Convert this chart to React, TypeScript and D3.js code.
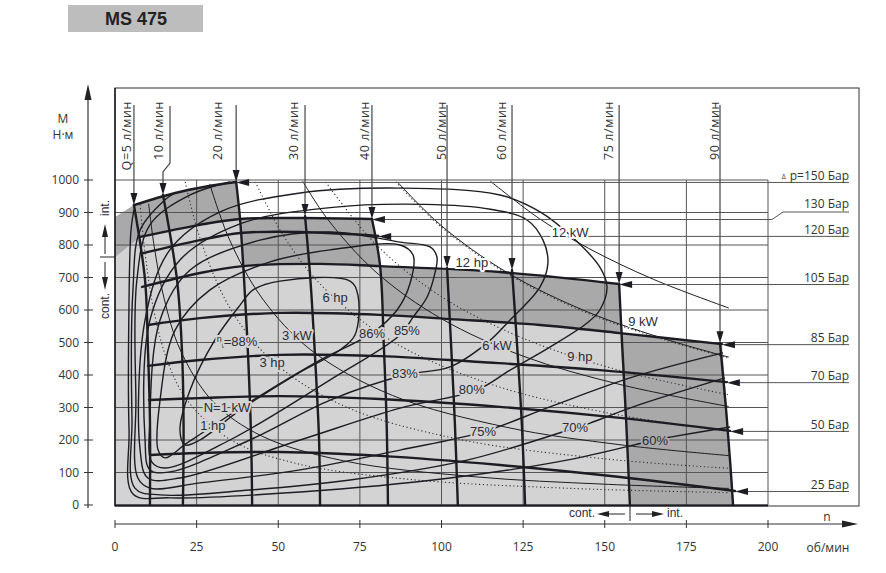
import React from "react";
import * as d3 from "d3";

type Pt = [number, number];

// axis ticks
const speedTicks = [0, 25, 50, 75, 100, 125, 150, 175, 200];
const torqueTicks = [0, 100, 200, 300, 400, 500, 600, 700, 800, 900, 1000];

// flow lines (n об/мин, M Н·м), top point first
const flowNames = ["Q=5 л/мин", "10 л/мин", "20 л/мин", "30 л/мин", "40 л/мин", "50 л/мин", "60 л/мин", "75 л/мин", "90 л/мин"];
const flowCurves: Pt[][] = [
  [[5.8, 923], [9.2, 692], [10.1, 477], [10.7, 262], [10.7, 0]],
  [[14.7, 954], [19, 692], [20.5, 477], [21, 250], [20.8, 0]],
  [[37.1, 994], [38.3, 880], [39.5, 700], [40.8, 450], [41.7, 200], [42, 0]],
  [[58.2, 889], [59.8, 700], [61.3, 450], [62.5, 200], [62.8, 0]],
  [[78.7, 880], [81.2, 735], [82.3, 500], [83.2, 250], [83.6, 0]],
  [[101.7, 729], [102.9, 500], [104.1, 250], [105, 0]],
  [[121.6, 723], [123.1, 500], [124.6, 250], [125.6, 0]],
  [[154.4, 680], [155.3, 500], [156.6, 250], [157.7, 0]],
  [[185.3, 498], [187.1, 300], [188.5, 120], [189.3, 0]],
];

// pressure lines, right end last
const pressureNames = ["p=150 Бар", "130 Бар", "120 Бар", "105 Бар", "85 Бар", "70 Бар", "50 Бар", "25 Бар"];
const pressureCurves: Pt[][] = [
  [[5.8, 923], [18.4, 960], [28, 980], [37.1, 994]],
  [[7.7, 825], [26, 862], [38.3, 880], [56.7, 883], [78.7, 880]],
  [[8.6, 775], [26, 815], [38.3, 837], [56.7, 840], [80.6, 828]],
  [[8.3, 671], [26, 714], [39.2, 735], [62.8, 742], [81.2, 735], [117.9, 717], [154.4, 680]],
  [[10.1, 554], [26, 575], [50.5, 591], [81.2, 585], [102.6, 572], [130.2, 554], [154.7, 529], [185.9, 495]],
  [[10.1, 428], [26, 446], [50.5, 462], [81.2, 458], [111.8, 440], [148.5, 415], [187.4, 378]],
  [[10.4, 323], [26, 329], [50.5, 335], [81.2, 326], [117.9, 302], [154.7, 268], [188.4, 228]],
  [[10.7, 154], [26, 160], [50.5, 163], [81.2, 151], [117.9, 123], [154.7, 86], [189.9, 43]],
];

// working areas
const intEnvelope: Pt[] = [
  [0, 0], [0, 886], [5.8, 923], [18.4, 960], [28, 980], [37.1, 994], [38.3, 880], [56.7, 883], [78.7, 880],
  [81.2, 735], [117.9, 717], [154.4, 680], [155, 530], [185.9, 495], [187.4, 300], [189.3, 0],
];
const contEnvelope: Pt[] = [
  [0, 0], [0, 763], [7.7, 825], [26, 862], [38.3, 880], [39.2, 735], [62.8, 742], [81.2, 735], [82, 582],
  [102.6, 572], [130.2, 554], [154.7, 529], [155.9, 323], [157.7, 0],
];

// efficiency contours
const effClosed: Pt[][] = [
  [[42.3, 662], [50.5, 689], [72, 689], [74.4, 646], [73.5, 523], [68.9, 477], [56.7, 409], [38.3, 292], [26, 200], [21.4, 185], [19.9, 231], [23, 354], [30.6, 508], [38.3, 615]],
  [[78.7, 529], [86.4, 600], [90.4, 683], [91.3, 769], [87.3, 800], [65.9, 785], [47.5, 748], [29.1, 662], [18.4, 538], [13.8, 323], [13.2, 169], [15.3, 145], [22.1, 191], [42.3, 323], [62.8, 446]],
  [[91.3, 578], [95.6, 640], [98, 714], [98.6, 763], [96.5, 794], [87.3, 809], [65.9, 840], [44.4, 815], [23, 723], [13.8, 569], [10.7, 262], [11.3, 132], [15.3, 114], [35.2, 200], [65.9, 385], [87.3, 523]],
  [[102.6, 425], [113.9, 498], [121, 569], [130.2, 671], [132.6, 745], [131.1, 815], [126.2, 877], [115, 910], [95, 925], [65.9, 915], [38.3, 865], [19.9, 754], [10.7, 569], [9.2, 200], [10.7, 108], [16.8, 102], [41.3, 200], [65.9, 323], [88.8, 400]],
  [[110.9, 354], [121, 415], [133.2, 486], [144.6, 560], [148.5, 600], [150.7, 671], [148.5, 732], [140.3, 822], [130.2, 902], [117.9, 954], [87.3, 975], [56.7, 960], [32.2, 902], [16.8, 785], [9.2, 569], [7.7, 169], [10.1, 83], [19.9, 83], [56.7, 200], [87.3, 298]],
];
const effOpen: Pt[][] = [
  [[186.2, 468], [158.7, 394], [133.2, 302], [112.7, 225], [87.3, 169], [56.7, 108], [26, 68], [10.7, 52], [7, 83], [6.4, 323], [6.7, 692], [10.7, 862], [23, 954], [35.2, 994]],
  [[186.8, 391], [158.7, 302], [145.5, 252], [140.9, 237], [107.8, 138], [72, 77], [41.3, 46], [13.8, 31], [6.1, 52], [5.2, 262], [5.5, 662], [7.7, 846], [15.3, 939], [18.4, 960]],
  [[188.4, 240], [170, 209], [165.4, 200], [138.4, 138], [102.6, 83], [56.7, 40], [16.8, 22], [5.5, 34], [4.3, 231], [4.3, 631], [4.9, 846], [5.8, 908]],
];
const effNames = ["86%", "85%", "83%", "80%", "75%", "70%", "60%"];
const effLabelAt: Pt[] = [[78.7, 529], [89.4, 538], [88.8, 406], [109.3, 354], [112.7, 225], [140.9, 237], [165.4, 200]];
const eff88At: Pt = [37.4, 502];

// constant power lines
const kwNames = ["N=1 kW", "3 kW", "6 kW", "9 kW", "12 kW"];
const kwCurves: Pt[][] = [
  [[10.3, 927], [12, 796], [15, 637], [20, 477], [30, 318], [45, 212], [70, 136], [110, 87], [150, 64], [188, 51]],
  [[29, 988], [35, 818], [45, 637], [60, 477], [85, 337], [120, 239], [155, 185], [188, 152]],
  [[57.5, 996], [65, 881], [80, 716], [100, 573], [125, 458], [155, 370], [188, 303]],
  [[86.5, 994], [100, 859], [120, 716], [145, 593], [170, 506], [188, 455]],
  [[115, 996], [130, 881], [145, 790], [165, 694], [188, 606]],
];
const kwLabelAt: Pt[] = [[34.3, 301], [55.7, 523], [117, 492], [161.7, 566], [139.4, 840]];
const hpNames = ["1 hp", "3 hp", "6 hp", "9 hp", "12 hp"];
const hpCurves: Pt[][] = [
  [[7.7, 925], [9, 791], [12, 593], [16, 445], [22, 324], [35, 203], [55, 129], [90, 79], [140, 51], [188, 38]],
  [[21.5, 994], [26, 822], [35, 610], [48, 445], [70, 305], [105, 203], [150, 142], [188, 113]],
  [[43, 994], [52, 822], [64, 668], [85, 503], [115, 372], [150, 285], [188, 226]],
  [[64.5, 994], [80, 801], [100, 641], [125, 513], [155, 413], [188, 339]],
  [[86, 994], [100, 855], [120, 712], [145, 589], [170, 503], [188, 452]],
];
const hpLabelAt: Pt[] = [[30, 246], [48.1, 440], [67.4, 640], [142.4, 458], [109.3, 745]];

const LIGHT = "#d3d3d3";
const DARK = "#a9a9a9";
const INK = "#1c1c22";
const TXT = "#2b2d38";

export default function App() {
  const x = d3.scaleLinear().domain([0, 200]).range([115, 768]);
  const y = d3.scaleLinear().domain([0, 1000]).range([505, 180]);
  const smooth = d3.line<Pt>().x((d) => x(d[0])).y((d) => y(d[1])).curve(d3.curveCatmullRom.alpha(0.5));
  const loop = d3.line<Pt>().x((d) => x(d[0])).y((d) => y(d[1])).curve(d3.curveCatmullRomClosed.alpha(0.5));
  const poly = d3.line<Pt>().x((d) => x(d[0])).y((d) => y(d[1]));

  const sans = "'Open Sans', 'Noto Sans', sans-serif";
  const arial = "'Liberation Sans', Arial, sans-serif";

  const flowTextShift = [-3, 0, -14, -7, -3, -1, -6, -6, -1];
  const kwHalo = [LIGHT, LIGHT, LIGHT, "#fff", "#fff"];
  const hpHalo = [LIGHT, LIGHT, LIGHT, LIGHT, "#fff"];
  const effHalo = [LIGHT, LIGHT, LIGHT, LIGHT, LIGHT, LIGHT, DARK];

  const label = (t: string, p: Pt, halo: string, key: string) => (
    <text key={key} x={x(p[0])} y={y(p[1]) + 4.5} textAnchor="middle" fontFamily={arial} fontSize={13}
      fill={TXT} stroke={halo} strokeWidth={4} paintOrder="stroke" strokeLinejoin="round">{t}</text>
  );

  return (
    <svg width={886} height={573} style={{ position: "absolute", left: 0, top: 0, background: "#fff" }}>
      <defs>
        <clipPath id="plot"><rect x={115} y={179} width={653} height={327} /></clipPath>
      </defs>

      <rect x={68} y={5} width={135} height={27} fill="#bdbdbd" />
      <text x={136} y={25} textAnchor="middle" fontFamily={arial} fontWeight="bold" fontSize={18} fill="#222">MS 475</text>

      <path d={poly(intEnvelope) + "Z"} fill={DARK} />
      <path d={poly(contEnvelope) + "Z"} fill={LIGHT} />

      {torqueTicks.map((t) => (
        <line key={"h" + t} x1={x(0)} x2={x(200)} y1={y(t)} y2={y(t)} stroke="#555" strokeWidth={1} />
      ))}
      {speedTicks.slice(1).map((t) => (
        <line key={"v" + t} x1={x(t)} x2={x(t)} y1={y(1000)} y2={y(0)} stroke="#555" strokeWidth={1} />
      ))}

      <g clipPath="url(#plot)" fill="none">
        {hpCurves.map((c, i) => (
          <path key={"hp" + i} d={smooth(c)!} stroke="#333" strokeWidth={1.1} strokeDasharray="1.2,2.6" />
        ))}
        {kwCurves.map((c, i) => (
          <path key={"kw" + i} d={smooth(c)!} stroke={INK} strokeWidth={1} />
        ))}
        {effClosed.map((c, i) => (
          <path key={"ec" + i} d={loop(c)!} stroke={INK} strokeWidth={1.4} />
        ))}
        {effOpen.map((c, i) => (
          <path key={"eo" + i} d={smooth(c)!} stroke={INK} strokeWidth={1.4} />
        ))}
      </g>

      <g fill="none" stroke={INK} strokeWidth={2.4} strokeLinecap="round">
        {pressureCurves.map((c, i) => <path key={"p" + i} d={smooth(c)!} />)}
        {flowCurves.map((c, i) => <path key={"q" + i} d={smooth(c)!} />)}
      </g>

      {/* frame */}
      <rect x={115} y={88} width={744} height={418} fill="none" stroke="#333" strokeWidth={1} />
      <line x1={115} x2={768} y1={505.5} y2={505.5} stroke={INK} strokeWidth={2} />
      <line x1={115} x2={115} y1={88} y2={506} stroke={INK} strokeWidth={1.5} />

      {/* flow labels */}
      {flowCurves.map((c, i) => {
        const tx = x(c[0][0]);
        const ty = y(c[0][1]);
        const lx = i === 1 ? tx + 7 : tx;
        return (
          <g key={"fl" + i}>
            {i === 1 ? (
              <polyline points={`${lx},106 ${lx},163 ${tx},172 ${tx},${ty - 8}`} fill="none" stroke="#444" strokeWidth={1.2} />
            ) : (
              <line x1={tx} x2={tx} y1={105} y2={ty - 8} stroke="#444" strokeWidth={1.2} />
            )}
            <polygon points={`${tx},${ty} ${tx - 3.5},${ty - 12} ${tx + 3.5},${ty - 12}`} fill={INK} />
            <text transform={`translate(${tx + flowTextShift[i]},101) rotate(-90)`} textAnchor="end"
              fontFamily={sans} fontSize={12.5} letterSpacing={0.6} fill="#333">{flowNames[i]}</text>
          </g>
        );
      })}

      {/* pressure labels */}
      {pressureCurves.map((c, i) => {
        const e = c[c.length - 1];
        const tx = x(e[0]);
        const ty = y(e[1]) + 0.5;
        const jog = i === 1;
        const textY = jog ? 208 : ty - 2.5;
        return (
          <g key={"pl" + i}>
            {jog ? (
              <polyline points={`${tx + 8},${ty} 772,${ty} 783,212 849,212`} fill="none" stroke="#555" strokeWidth={1} />
            ) : (
              <line x1={tx + 8} x2={849} y1={ty} y2={ty} stroke="#555" strokeWidth={1} />
            )}
            <polygon points={`${tx},${ty} ${tx + 13},${ty - 3.5} ${tx + 13},${ty + 3.5}`} fill={INK} />
            <text x={849} y={textY} textAnchor="end" fontFamily={sans} fontSize={12} fill="#333">
              {i === 0 ? <><tspan fontSize={7} dy={-1}>Δ</tspan><tspan dx={4} dy={1}>{pressureNames[i]}</tspan></> : pressureNames[i]}
            </text>
          </g>
        );
      })}

      {/* curve labels */}
      {kwNames.map((t, i) => label(t, kwLabelAt[i], kwHalo[i], "kwl" + i))}
      {hpNames.map((t, i) => label(t, hpLabelAt[i], hpHalo[i], "hpl" + i))}
      {effNames.map((t, i) => label(t, effLabelAt[i], effHalo[i], "efl" + i))}
      <text x={x(eff88At[0])} y={y(eff88At[1]) + 4.5} textAnchor="middle" fontFamily={arial} fontSize={13}
        fill={TXT} stroke={LIGHT} strokeWidth={4} paintOrder="stroke" strokeLinejoin="round">
        <tspan fontSize={9} dy={-4}>η</tspan><tspan fontSize={7} dy={6}>t</tspan><tspan dy={-2}>=88%</tspan>
      </text>

      {/* y axis */}
      <line x1={88} x2={88} y1={508} y2={98} stroke="#333" strokeWidth={1.2} />
      <polygon points="88,84 84.5,100 91.5,100" fill="#222" />
      {torqueTicks.map((t) => (
        <g key={"yt" + t}>
          <line x1={84} x2={93} y1={y(t)} y2={y(t)} stroke="#333" strokeWidth={1} />
          <text x={79} y={y(t) + 4} textAnchor="end" fontFamily={sans} fontSize={12} fill="#333">{t}</text>
        </g>
      ))}
      <text x={63} y={123} textAnchor="middle" fontFamily={sans} fontSize={12} fill="#333">M</text>
      <text x={63} y={139} textAnchor="middle" fontFamily={sans} fontSize={12} fill="#333">Н·м</text>

      {/* int / cont marks on y */}
      <text transform="translate(109,208) rotate(-90)" textAnchor="middle" fontFamily={arial} fontSize={12} fill={TXT}>int.</text>
      <line x1={105} x2={105} y1={254} y2={236} stroke="#222" strokeWidth={1} />
      <polygon points="105,224 102,237 108,237" fill="#222" />
      <line x1={100} x2={115} y1={257} y2={257} stroke="#222" strokeWidth={1} />
      <line x1={105} x2={105} y1={262} y2={278} stroke="#222" strokeWidth={1} />
      <polygon points="105,290 102,277 108,277" fill="#222" />
      <text transform="translate(109,306) rotate(-90)" textAnchor="middle" fontFamily={arial} fontSize={12} fill={TXT}>cont.</text>

      {/* x axis */}
      <line x1={115} x2={846} y1={524} y2={524} stroke="#333" strokeWidth={1.2} />
      <polygon points="858,524 842,520.5 842,527.5" fill="#222" />
      {speedTicks.map((t) => (
        <g key={"xt" + t}>
          <line x1={x(t)} x2={x(t)} y1={520} y2={528} stroke="#333" strokeWidth={1} />
          <text x={x(t)} y={551} textAnchor="middle" fontFamily={sans} fontSize={12} fill="#333">{t}</text>
        </g>
      ))}
      <text x={827} y={521} textAnchor="middle" fontFamily={sans} fontSize={12} fill="#333">n</text>
      <text x={828} y={552} textAnchor="middle" fontFamily={sans} fontSize={12} fill="#333">об/мин</text>

      {/* cont / int marks on x */}
      <text x={595} y={517} textAnchor="end" fontFamily={arial} fontSize={12} fill={TXT}>cont.</text>
      <line x1={625} x2={608} y1={514} y2={514} stroke="#222" strokeWidth={1} />
      <polygon points="597,514 609,511 609,517" fill="#222" />
      <line x1={630} x2={630} y1={506} y2={521} stroke="#222" strokeWidth={1} />
      <line x1={636} x2={653} y1={514} y2={514} stroke="#222" strokeWidth={1} />
      <polygon points="664,514 652,511 652,517" fill="#222" />
      <text x={667} y={517} fontFamily={arial} fontSize={12} fill={TXT}>int.</text>
    </svg>
  );
}
